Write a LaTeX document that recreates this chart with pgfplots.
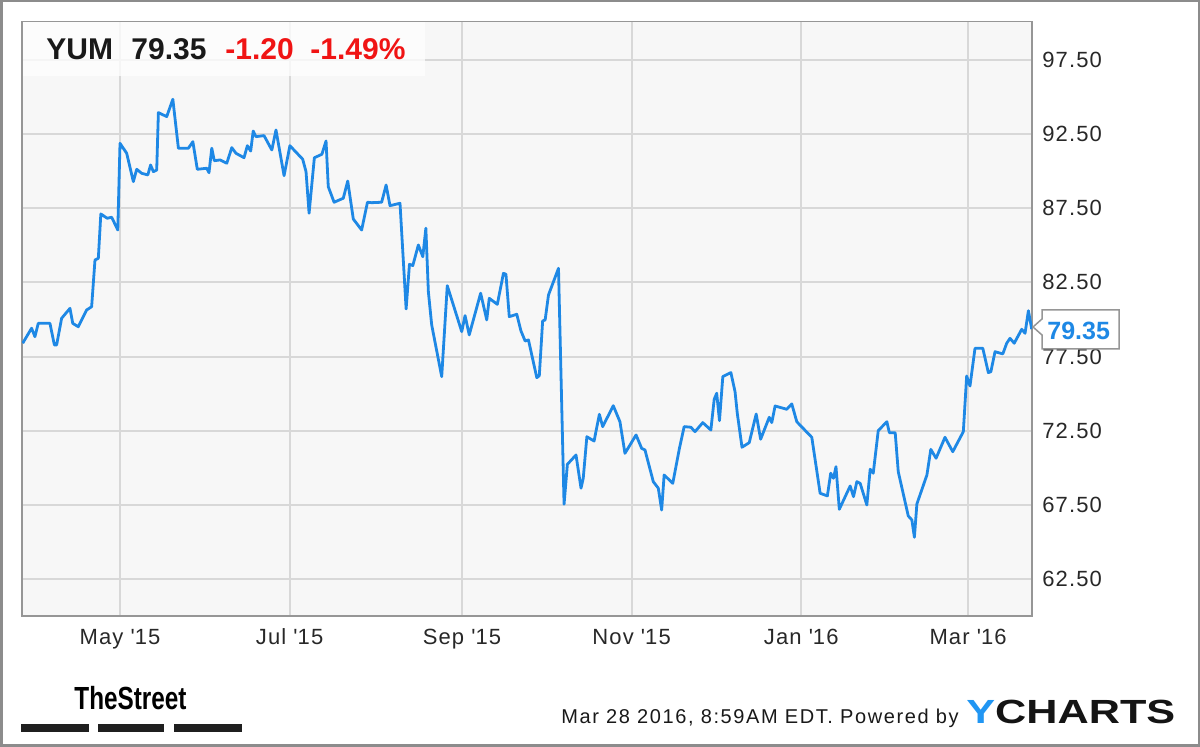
\documentclass[border=0pt]{standalone}
\usepackage{fontspec}
\setmainfont{Liberation Sans}
\newfontfamily\tickfont[LetterSpace=5]{Liberation Sans}
\newfontfamily\footfont[LetterSpace=8]{Liberation Sans}
\usepackage{graphicx}
\usepackage{pgfplots}
\pgfplotsset{compat=1.18}
\definecolor{linecol}{RGB}{30,136,229}
\definecolor{gridcol}{RGB}{216,216,216}
\definecolor{bgcol}{RGB}{247,247,247}
\definecolor{framecol}{RGB}{150,150,150}
\definecolor{bordercol}{RGB}{140,140,140}
\definecolor{ticktext}{RGB}{40,40,40}
\definecolor{ychblue}{RGB}{33,150,243}
\definecolor{redtxt}{RGB}{240,20,20}
\begin{document}
\begin{tikzpicture}
\useasboundingbox (0,0) rectangle (600pt,373.5pt);
\fill[white] (0,0) rectangle (600pt,373.5pt);
\begin{axis}[
  at={(11pt,65.5pt)}, anchor=south west,
  width=505pt, height=297.25pt, scale only axis,
  xmin=-35.25, xmax=328, ymin=60.02, ymax=100.08,
  axis background/.style={fill=bgcol},
  axis line style={draw=framecol, line width=0.75pt},
  xtick={0,61,123,184,245,305},
  xticklabels={May \textquotesingle15, Jul \textquotesingle15, Sep \textquotesingle15, Nov \textquotesingle15, Jan \textquotesingle16, Mar \textquotesingle16},
  ytick={62.5,67.5,72.5,77.5,82.5,87.5,92.5,97.5},
  yticklabel pos=right,
  major tick length=0pt,
  grid=major, major grid style={draw=gridcol, line width=1pt},
  /pgf/number format/assume math mode=true,
  /pgf/number format/fixed, /pgf/number format/fixed zerofill, /pgf/number format/precision=2,
  yticklabel style={anchor=west, inner sep=0pt, xshift=5pt, font=\tickfont\fontsize{11}{11}\selectfont, text=ticktext},
  xticklabel style={anchor=base, inner sep=0pt, yshift=-14.5pt, font=\tickfont\fontsize{11}{11}\selectfont, text=ticktext},
]
\addplot[linecol, line width=1.4pt, line join=round, mark=none] table {
x y
-35.0 78.40
-31.8 79.41
-30.6 78.84
-29.4 79.74
-25.2 79.74
-23.6 78.28
-22.8 78.28
-21.0 80.08
-18.0 80.75
-17.0 79.74
-15.0 79.51
-12.0 80.64
-10.2 80.86
-9.0 84.01
-7.8 84.12
-6.9 87.11
-4.6 86.82
-3.0 86.89
-0.8 86.03
0.0 91.87
2.4 91.20
4.8 89.29
6.0 90.12
7.8 89.85
10.0 89.74
11.0 90.41
12.0 89.96
13.2 90.07
13.8 93.94
16.8 93.67
19.0 94.84
21.0 91.54
24.6 91.54
26.2 91.98
27.8 90.12
31.2 90.19
32.0 89.89
33.0 91.54
33.9 90.70
36.0 90.75
38.4 90.53
40.2 91.58
41.7 91.20
44.6 90.90
45.8 91.71
47.0 91.35
47.9 92.70
48.9 92.32
51.8 92.39
54.6 91.42
56.1 92.77
59.0 89.69
61.1 91.71
65.7 90.80
66.9 89.96
68.0 87.16
69.9 90.90
72.6 91.13
74.1 92.03
74.9 88.95
77.0 87.90
80.3 88.17
81.9 89.33
83.9 86.77
86.9 86.03
89.0 87.90
90.5 87.87
94.1 87.90
95.7 89.06
97.1 87.67
100.7 87.83
102.9 80.71
104.1 83.72
105.3 83.63
107.3 85.02
108.9 84.23
110.0 86.15
110.9 81.87
112.1 79.63
115.7 76.15
117.7 82.28
122.9 79.18
124.1 80.26
125.6 78.96
129.7 81.77
131.9 79.97
132.8 81.43
135.7 81.02
137.9 83.11
138.8 83.05
140.0 80.19
142.7 80.35
144.2 79.23
145.7 78.55
146.9 78.62
149.9 76.08
150.8 76.21
152.0 79.90
152.9 79.97
154.1 81.65
157.7 83.45
159.7 67.55
160.9 70.24
164.0 70.87
165.8 68.63
166.6 69.30
167.9 72.10
170.5 71.81
172.4 73.61
173.6 72.78
177.4 74.19
179.8 73.11
181.6 70.98
185.6 72.22
187.6 71.32
188.8 71.21
191.8 69.07
193.6 68.63
194.8 67.16
195.7 69.52
198.8 68.96
201.2 71.32
202.9 72.78
205.3 72.74
206.8 72.44
209.6 73.05
212.5 72.55
213.7 74.62
214.6 75.03
215.6 73.18
216.8 76.15
219.7 76.42
221.2 75.13
222.0 73.68
223.7 71.39
226.3 71.70
228.8 73.63
230.4 71.93
233.5 73.41
234.4 73.05
235.6 74.17
239.8 73.95
241.6 74.31
243.4 73.11
248.8 72.06
251.8 68.29
254.4 68.11
255.6 69.64
256.6 69.30
257.5 70.08
258.7 67.21
262.6 68.78
263.8 68.06
265.0 69.07
266.2 68.96
268.6 67.50
269.8 69.91
270.9 69.64
272.7 72.51
275.8 73.11
276.7 72.37
278.8 72.37
279.9 69.74
283.5 66.76
284.8 66.49
285.7 65.32
286.6 67.57
290.2 69.52
291.6 71.25
293.5 70.65
296.7 72.06
299.5 71.09
303.3 72.44
304.5 76.19
305.7 75.52
307.5 78.06
310.3 78.06
312.3 76.42
313.2 76.48
314.7 77.83
317.5 77.68
318.9 78.40
320.1 78.73
321.6 78.40
324.3 79.34
325.5 79.07
326.7 80.59
327.9 79.35
};
\end{axis}
% header box
\fill[white, opacity=0.75] (11.4pt,335.5pt) rectangle (212.5pt,362.3pt);
\node[anchor=base west, inner sep=0pt, font=\bfseries\fontsize{15}{15}\selectfont, text=black!90] at (23pt,343.5pt) {YUM};
\node[anchor=base west, inner sep=0pt, font=\bfseries\fontsize{15}{15}\selectfont, text=black!90] at (65.5pt,343.5pt) {79.35};
\node[anchor=base west, inner sep=0pt, font=\bfseries\fontsize{15}{15}\selectfont, text=redtxt] at (112.5pt,343.5pt) {-1.20};
\node[anchor=base west, inner sep=0pt, font=\bfseries\fontsize{15}{15}\selectfont, text=redtxt] at (155pt,343.5pt) {-1.49\%};
% last price callout
\draw[framecol, fill=white, line width=0.75pt] (521pt,199pt) -- (559.5pt,199pt) -- (559.5pt,218.5pt) -- (521pt,218.5pt) -- (521pt,214pt) -- (516.5pt,210pt) -- (521pt,206pt) -- cycle;
\node[anchor=base west, inner sep=0pt, text=linecol, font=\bfseries\fontsize{12.5}{12.5}\selectfont] at (523.5pt,203.5pt) {79.35};
% footer
\node[anchor=base west, inner sep=0pt] at (37pt,18.5pt) {\scalebox{0.76}[1]{\bfseries\fontsize{16}{16}\selectfont TheStreet}};
\fill[black!88] (10.5pt,7.5pt) rectangle (44.5pt,11.5pt);
\fill[black!88] (49pt,7.5pt) rectangle (82pt,11.5pt);
\fill[black!88] (87pt,7.5pt) rectangle (121pt,11.5pt);
\node[anchor=base west, inner sep=0pt, text=black!90] at (280.5pt,11.8pt) {\footfont\fontsize{10}{10}\selectfont Mar 28 2016, 8:59AM EDT. Powered by};
\node[anchor=base west, inner sep=0pt] at (483pt,11.8pt) {\scalebox{1.29}[1]{\bfseries\fontsize{16.75}{16.75}\selectfont\textcolor{ychblue}{Y}\textcolor{black!92}{CHARTS}}};
% outer border
\draw[bordercol, line width=1.25pt] (0.625pt,0.625pt) rectangle (599.375pt,372.875pt);
\end{tikzpicture}
\end{document}
